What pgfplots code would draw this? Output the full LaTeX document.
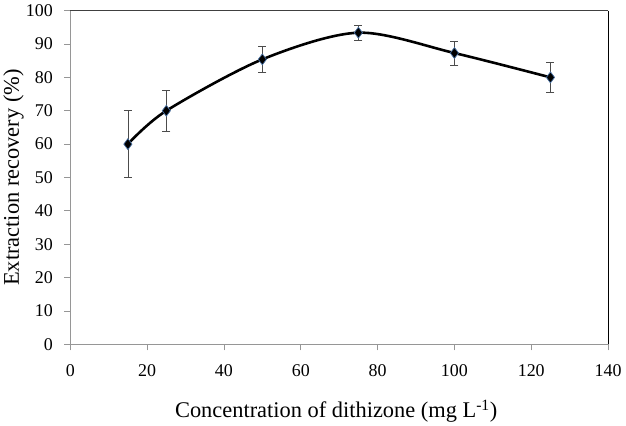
\documentclass[border=0pt]{standalone}
\usepackage{pgfplots}
\pgfplotsset{compat=1.18}
\usepackage{fontspec}
\setmainfont{Liberation Serif}

\definecolor{axisgrey}{RGB}{150,150,150}
\definecolor{markblue}{RGB}{70,110,160}

\begin{document}
\begin{tikzpicture}
\begin{axis}[
  scale only axis,
  width=540pt, height=335pt,
  xmin=0, xmax=140, ymin=0, ymax=100,
  xtick={0,20,...,140}, ytick={0,10,...,100},
  /pgf/number format/assume math mode=true,
  tick label style={font=\fontsize{18}{21}\selectfont},
  label style={font=\fontsize{22.5}{26}\selectfont},
  xlabel={Concentration\ of\ dithizone\ (mg L\textsuperscript{-1})},
  ylabel={Extraction recovery (\%)},
  xlabel style={at={(axis description cs:0.5,0)}, anchor=center, yshift=-67pt, xshift=-3pt},
  ylabel style={at={(axis description cs:0,0.5)}, anchor=center, yshift=57pt},
  yticklabel style={anchor=east, xshift=-8pt},
  xticklabel style={anchor=north, yshift=-11pt},
  axis line style={draw=none},
  tick align=outside,
  tick pos=left,
  major tick length=6pt,
  tick style={axisgrey, line width=0.8pt},
  clip=false,
]
% frame: grey left and bottom, dark top and right
\draw[axisgrey, line width=0.9pt] (rel axis cs:0,1) -- (rel axis cs:0,0) -- (rel axis cs:1,0);
\draw[black!75, line width=0.9pt] (rel axis cs:0,1) -- (rel axis cs:1,1);
\draw[black, line width=0.9pt] (rel axis cs:1,1) -- (rel axis cs:1,0);

\addplot[
  black, line width=2.6pt, smooth, tension=0.5,
  mark=diamond*, mark size=5.5pt,
  mark options={fill=black, draw=markblue, line width=0.7pt},
  error bars/.cd, y dir=both, y explicit,
  error bar style={black!70, line width=0.8pt},
  error mark options={rotate=90, black!70, mark size=4pt, line width=0.8pt},
] table[x=c, y=r, y error=e] {
c    r     e
15   60.0  10.0
25   70.0  6.1
50   85.4  3.8
75   93.4  2.3
100  87.3  3.6
125  80.0  4.6
};
\end{axis}
% page frame around the axis
\path ([xshift=-68pt, yshift=10.7pt]current axis.north west)
  rectangle ([xshift=18pt, yshift=-80pt]current axis.south east);
\end{tikzpicture}
\end{document}
